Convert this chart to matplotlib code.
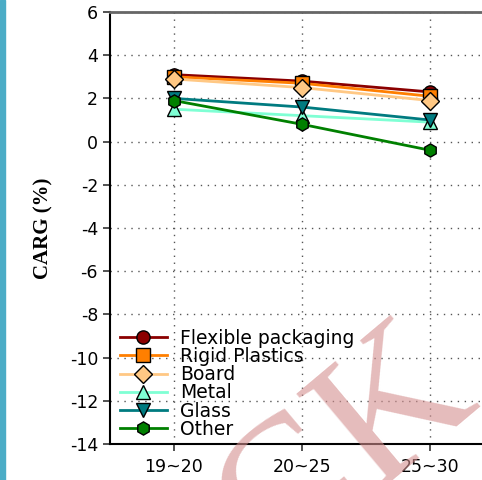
import matplotlib.pyplot as plt
from matplotlib.patches import Rectangle

periods = ["19~20", "20~25", "25~30"]

flexible = [3.1, 2.8, 2.3]
rigid = [3.0, 2.7, 2.1]
board = [2.9, 2.5, 1.9]
metal = [1.5, 1.2, 0.9]
glass = [2.0, 1.6, 1.0]
other = [1.9, 0.8, -0.4]

series = [
    ("Flexible packaging", flexible, "#8b0000", "o"),
    ("Rigid Plastics", rigid, "#ff7f00", "s"),
    ("Board", board, "#ffc884", "D"),
    ("Metal", metal, "#7fffd4", "^"),
    ("Glass", glass, "#007b80", "v"),
    ("Other", other, "#008000", "h"),
]

plt.rcParams["font.family"] = ["DejaVu Sans"]
plt.rcParams["axes.unicode_minus"] = False

fig = plt.figure(figsize=(4.82, 4.8), dpi=100)
ax = fig.add_axes([0.228, 0.075, 0.797, 0.9])

x = list(range(len(periods)))
for name, vals, color, marker in series:
    ax.plot(x, vals, color=color, lw=2, marker=marker, markersize=9.5,
            markerfacecolor=color, markeredgecolor="black", markeredgewidth=1,
            label=name)

ax.set_xlim(-0.5, 2.5)
ax.set_ylim(-14, 6)
ax.set_yticks(range(-14, 7, 2))
ax.set_xticks(x)
ax.set_xticklabels(periods)
ax.tick_params(labelsize=12.5, length=5, width=1.2, color="#333333")
ax.tick_params(axis="x", pad=5)

ax.grid(True, linestyle=(0, (1, 4)), color="#555555", linewidth=1)
ax.spines["right"].set_visible(False)
ax.spines["top"].set_color("#666666")
ax.spines["top"].set_linewidth(2)
ax.spines["left"].set_linewidth(1.5)
ax.spines["bottom"].set_linewidth(1.5)

ax.set_ylabel("CARG (%)", family="Liberation Serif", fontweight="bold",
              fontsize=15, labelpad=12)

ax.legend(loc="lower left", bbox_to_anchor=(0.026, 0.012), frameon=False,
          fontsize=13.5, handlelength=2.5, labelspacing=-0.04, borderpad=0,
          borderaxespad=0, handletextpad=0.7)

fig.patches.append(Rectangle((0.0, 0.0), 0.011, 1.0, transform=fig.transFigure,
                             color="#4bacc6", zorder=5))

# faint pink watermark in the lower right corner
fig.text(0.72, 0.06, "CK", family="Liberation Serif", fontsize=140,
         color="#d48f8f", alpha=0.6, rotation=40, ha="center", va="center",
         rotation_mode="anchor", zorder=10)

fig.savefig("out.png", dpi=100)
